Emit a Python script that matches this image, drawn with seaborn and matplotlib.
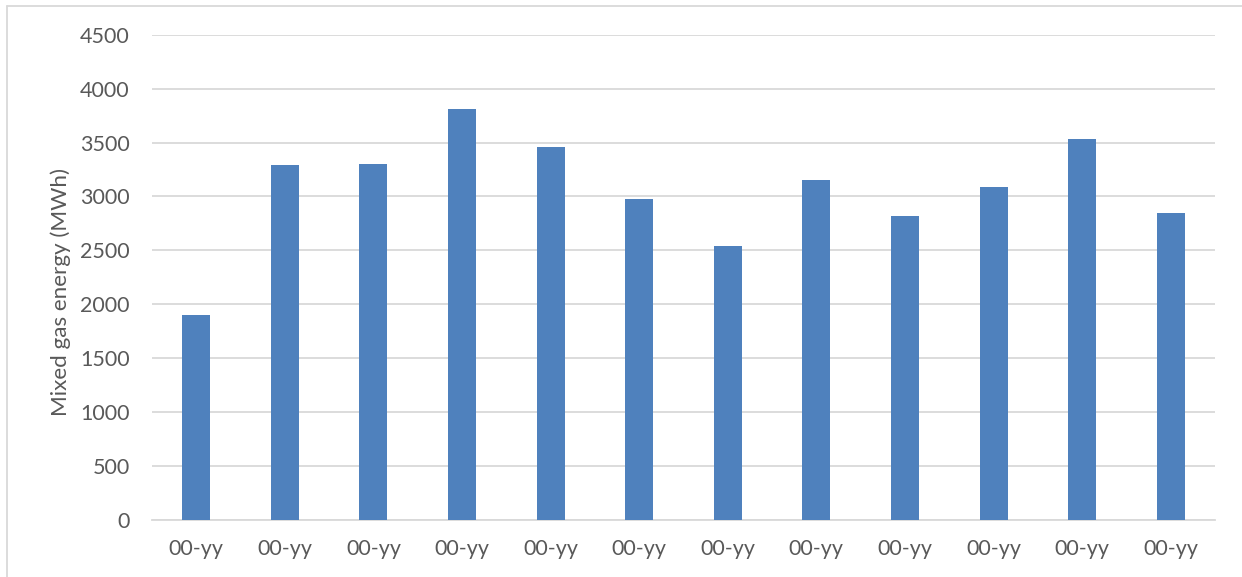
import matplotlib
matplotlib.use("Agg")
import matplotlib.pyplot as plt
from matplotlib.lines import Line2D
import seaborn as sns
import pandas as pd

# Monthly mixed gas energy (MWh)
periods = ["P01", "P02", "P03", "P04", "P05", "P06",
           "P07", "P08", "P09", "P10", "P11", "P12"]
energy_mwh = [1905, 3290, 3300, 3810, 3460, 2980,
              2545, 3150, 2820, 3090, 3535, 2845]
tick_labels = ["00-yy"] * 12
y_ticks = [0, 500, 1000, 1500, 2000, 2500, 3000, 3500, 4000, 4500]

df = pd.DataFrame({"period": periods, "energy": energy_mwh})

sns.set_theme(style="white")
plt.rcParams["font.family"] = ["Lato", "DejaVu Sans"]

text_color = "#595959"
grid_color = "#D9D9D9"
bar_color = "#4F81BD"

fig = plt.figure(figsize=(12.42, 5.77), dpi=100)
ax = fig.add_axes([152 / 1242, 1 - 520 / 577, (1215 - 152) / 1242, (520 - 34.7) / 577])

sns.barplot(data=df, x="period", y="energy", order=periods, color=bar_color,
            width=0.316, saturation=1, edgecolor="none", linewidth=0, ax=ax, zorder=3)

ax.set_ylim(0, 4500)
ax.set_xlim(-0.5, len(periods) - 0.5)
ax.set_yticks(y_ticks)
ax.set_yticklabels([str(v) for v in y_ticks])
ax.set_xticks(range(len(periods)))
ax.set_xticklabels(tick_labels)

ax.yaxis.grid(True, color=grid_color, linewidth=1.3, zorder=0)
ax.xaxis.grid(False)
for side in ["left", "right", "top"]:
    ax.spines[side].set_visible(False)
ax.spines["bottom"].set_color(grid_color)
ax.spines["bottom"].set_linewidth(1.3)

ax.tick_params(axis="both", length=0, labelsize=15.5, labelcolor=text_color)
ax.tick_params(axis="y", pad=16)
ax.tick_params(axis="x", pad=14)

ax.set_xlabel("")
ax.set_ylabel("Mixed gas energy (MWh)", fontsize=16.2, color=text_color)
ax.yaxis.set_label_coords(-0.076, 0.47)

# chart frame
fig.add_artist(Line2D([7 / 1242, 7 / 1242], [0, 1 - 5.5 / 577],
                      transform=fig.transFigure, color=grid_color, linewidth=1.3))
fig.add_artist(Line2D([7 / 1242, 1], [1 - 5.5 / 577, 1 - 5.5 / 577],
                      transform=fig.transFigure, color=grid_color, linewidth=1.3))

fig.savefig("out.png", dpi=100, facecolor="white")
